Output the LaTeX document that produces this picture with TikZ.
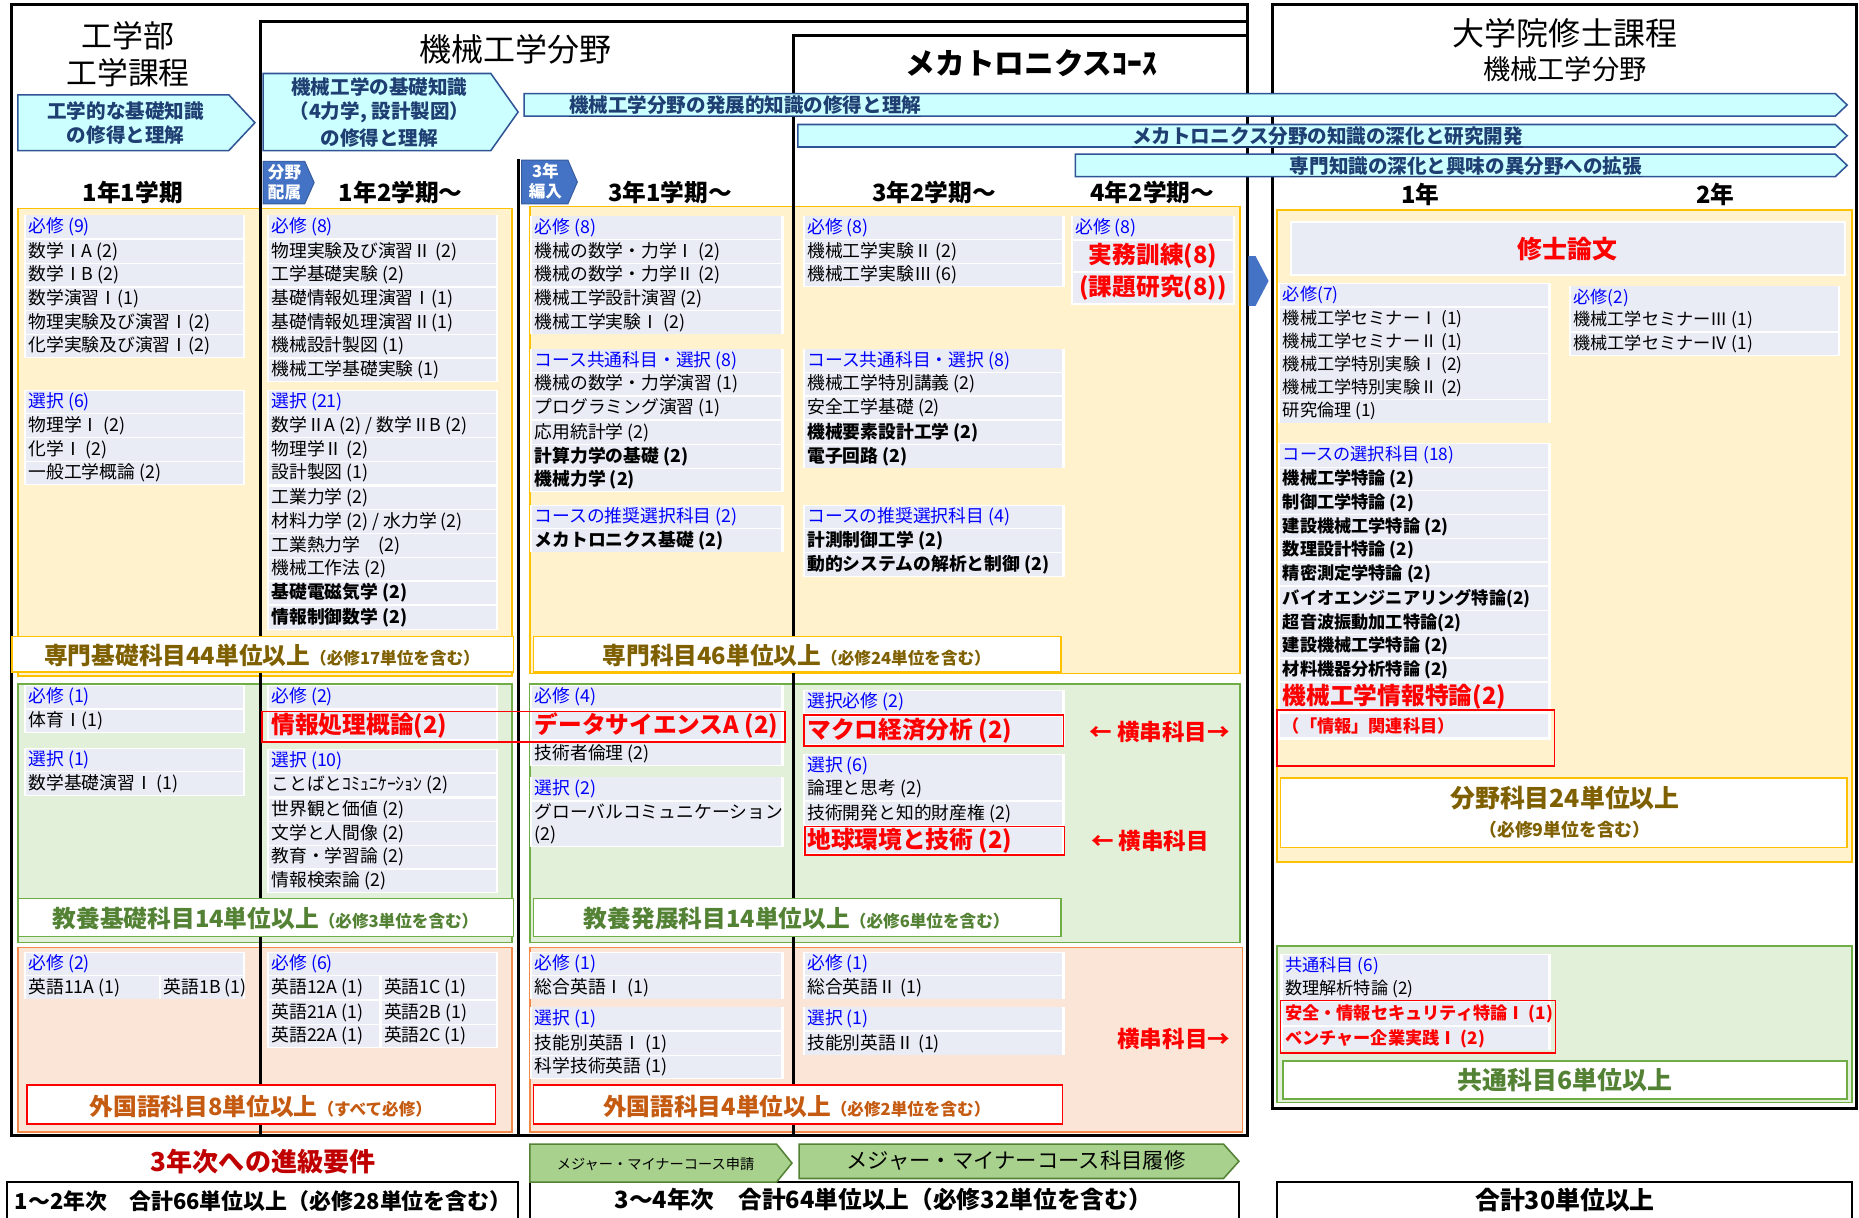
\documentclass[tikz,border=0pt]{standalone}
\usepackage{fontspec}
\setmainfont{Noto Sans CJK JP}
\definecolor{cyanfill}{HTML}{CCFFFF}
\definecolor{cyanline}{HTML}{2F5597}
\definecolor{navy}{HTML}{1F3F73}
\definecolor{tagblue}{HTML}{4472C4}
\definecolor{yfill}{HTML}{FFF2CC}
\definecolor{yline}{HTML}{FFC000}
\definecolor{gfill}{HTML}{E2F0D9}
\definecolor{gline}{HTML}{70AD47}
\definecolor{ofill}{HTML}{FBE5D6}
\definecolor{oline}{HTML}{F08A4B}
\definecolor{cellc}{HTML}{E9EBF5}
\definecolor{hdblue}{HTML}{0000FF}
\definecolor{olive}{HTML}{7F6000}
\definecolor{dgreen}{HTML}{548235}
\definecolor{orgtxt}{HTML}{C55A11}
\definecolor{myred}{HTML}{FF0000}
\definecolor{darkred}{HTML}{C00000}
\definecolor{mmfill}{HTML}{A9D18E}
\definecolor{mmline}{HTML}{548235}
\newcommand\fsz[1]{\fontsize{#1}{#1}\selectfont}
\newcounter{nn}
% cell: x1 x2 y style text (left aligned)
\newcommand\cel[5]{\stepcounter{nn}%
  \fill[cellc] (#1,{#3-9.5}) rectangle (#2,{#3+9.5});
  \node[#4,anchor=west] (c\arabic{nn}) at ({#1+2},#3) {#5};}
% cell with height: x1 x2 y h style text
\newcommand\celh[6]{\stepcounter{nn}%
  \fill[cellc] (#1,{#3-#4/2+0.5}) rectangle (#2,{#3+#4/2-0.5});
  \node[#5,anchor=west] (c\arabic{nn}) at ({#1+2},#3) {#6};}
% centered cell with height
\newcommand\celc[6]{\stepcounter{nn}%
  \fill[cellc] (#1,{#3-#4/2+0.5}) rectangle (#2,{#3+#4/2-0.5});
  \node[#5] (c\arabic{nn}) at ({(#1+#2)/2},#3) {#6};}
\newcommand\blk[4]{\fill[white] ({#1-2},#3) rectangle ({#2+2},#4);}
\newcommand\chev[6]{\draw[#6] (#1,#4) -- (#2,#4) -- (#3,{(#4+#5)/2}) -- (#2,#5) -- (#1,#5) -- cycle;}
\tikzset{
 base/.style={inner sep=0pt, outer sep=0pt},
 hd/.style={base, text=hdblue, font=\fsz{15}},
 cr/.style={base, font=\fsz{15}},
 crb/.style={base, font=\fsz{15}\bfseries},
 gh/.style={base, text=hdblue, font=\fsz{14.5}},
 gc/.style={base, font=\fsz{14.5}},
 gcb/.style={base, font=\fsz{14.5}\bfseries},
 rl/.style={base, text=myred, font=\fsz{20}\bfseries},
 rs/.style={base, text=myred, font=\fsz{14.5}\bfseries},
 frame/.style={line width=2.5pt, black},
 yreg/.style={fill=yfill, draw=yline, line width=1.3pt},
 greg/.style={fill=gfill, draw=gline, line width=1.3pt},
 oreg/.style={fill=ofill, draw=oline, line width=1.3pt},
 cyanarr/.style={fill=cyanfill, draw=cyanline, line width=1.3pt},
 tagarr/.style={fill=tagblue, draw=tagblue!80!black, line width=0.8pt},
 mmarr/.style={fill=mmfill, draw=mmline, line width=1.3pt},
 atxt/.style={base, text=navy, font=\fsz{16.5}\bfseries, align=center},
 utxt/.style={base, text=navy, font=\fsz{16.5}\bfseries, anchor=west},
 sem/.style={base, font=\fsz{20}\bfseries},
 ttl/.style={base, font=\fsz{26}},
 redbox/.style={draw=myred, line width=1.3pt},
 yoko/.style={base, text=myred, font=\fsz{19}\bfseries},
 sumbig/.style={base, font=\bfseries},
 totbox/.style={draw=black, line width=1.3pt, fill=white},
}
\begin{document}
\begin{tikzpicture}[x=1pt,y=-1pt]
\useasboundingbox (0,0) rectangle (1568,1027);
\fill[white] (0,0) rectangle (1568,1027);

% ---------- coloured regions
\filldraw[yreg] (15,176) rectangle (432,570);
\filldraw[yreg] (447,174) rectangle (1046,568);
\filldraw[yreg] (1077,177) rectangle (1562,727);
\filldraw[greg] (15,577) rectangle (432,795);
\filldraw[greg] (447,577) rectangle (1046,795);
\filldraw[greg] (1077,798) rectangle (1562,930);
\filldraw[oreg] (15,799) rectangle (432,955);
\filldraw[oreg] (447,799) rectangle (1048,955);

% ---------- frames
\draw[frame] (10,4) rectangle (1052,958);
\draw[frame] (220,958) -- (220,18) -- (1052,18);
\draw[frame] (669,958) -- (669,30) -- (1052,30);
\draw[frame] (437,134) -- (437,958);
\draw[frame] (1073,4) rectangle (1566,935);

% ---------- titles
\node[ttl] (t1) at (108,30) {工学部};
\node[ttl] (t2) at (108,61) {工学課程};
\node[base, font=\fsz{27}] (t3) at (435,42) {機械工学分野};
\node[base, font=\fsz{25}\bfseries] (t4) at (870,53) {メカトロニクスｺｰｽ};
\node[base, font=\fsz{27}] (t5) at (1320,28) {大学院修士課程};
\node[base, font=\fsz{23}] (t6) at (1320,58) {機械工学分野};

% ---------- cyan arrows
\chev{15}{193}{215}{80}{127}{cyanarr}
\node[atxt, font=\fsz{16.5}\bfseries, align=center] (a1) at (106,104) {工学的な基礎知識\\[4pt]の修得と理解};
\chev{222}{414}{437}{62}{127}{cyanarr}
\node[atxt, align=center] (a2) at (320,95) {機械工学の基礎知識\\[4pt]（4力学, 設計製図）\\[4pt]の修得と理解};
\chev{442}{1548}{1558}{79}{98}{cyanarr}
\node[utxt] (a3) at (480,89) {機械工学分野の発展的知識の修得と理解};
\draw[navy, line width=1pt] ([yshift=-1pt]a3.south west) -- ([yshift=-1pt]a3.south east);
\chev{673}{1548}{1558}{105}{124}{cyanarr}
\node[utxt] (a4) at (955,115) {メカトロニクス分野の知識の深化と研究開発};
\draw[navy, line width=1pt] ([yshift=-1pt]a4.south west) -- ([yshift=-1pt]a4.south east);
\chev{907}{1548}{1558}{130}{149}{cyanarr}
\node[utxt] (a5) at (1088,140) {専門知識の深化と興味の異分野への拡張};
\draw[navy, line width=1pt] ([yshift=-1pt]a5.south west) -- ([yshift=-1pt]a5.south east);

% ---------- blue tags
\chev{222}{257}{265}{136}{172}{tagarr}
\node[base, text=white, font=\fsz{14}\bfseries, align=center] (tg1) at (240,154) {分野\\[3pt]配属};
\chev{440}{479}{487}{135}{172}{tagarr}
\node[base, text=white, font=\fsz{14}\bfseries, align=center] (tg2) at (460,153) {3年\\[3pt]編入};
\fill[tagblue] (1053,216) -- (1059,216) -- (1070,237) -- (1059,258) -- (1053,258) -- cycle;

% ---------- semester headers
\node[sem] (s1) at (112,162) {1年1学期};
\node[sem] (s2) at (338,162) {1年2学期～};
\node[sem] (s3) at (565,162) {3年1学期～};
\node[sem] (s4) at (788,162) {3年2学期～};
\node[sem] (s5) at (972,162) {4年2学期～};
\node[sem] (s6) at (1198,164) {1年};
\node[sem] (s7) at (1447,164) {2年};

% ---------- yellow: column 1
\blk{22}{205}{181}{302}
\cel{22}{205}{191}{hd}{必修 (9)}
\cel{22}{205}{212}{cr}{数学ⅠA (2)}
\cel{22}{205}{232}{cr}{数学ⅠB (2)}
\cel{22}{205}{252}{cr}{数学演習Ⅰ(1)}
\cel{22}{205}{272}{cr}{物理実験及び演習Ⅰ(2)}
\cel{22}{205}{292}{cr}{化学実験及び演習Ⅰ(2)}
\blk{22}{205}{329}{409}
\cel{22}{205}{339}{hd}{選択 (6)}
\cel{22}{205}{359}{cr}{物理学Ⅰ (2)}
\cel{22}{205}{379}{cr}{化学Ⅰ (2)}
\cel{22}{205}{399}{cr}{一般工学概論 (2)}
% column 2
\blk{227}{418}{181}{322}
\cel{227}{418}{191}{hd}{必修 (8)}
\cel{227}{418}{212}{cr}{物理実験及び演習Ⅱ (2)}
\cel{227}{418}{232}{cr}{工学基礎実験 (2)}
\cel{227}{418}{252}{cr}{基礎情報処理演習Ⅰ(1)}
\cel{227}{418}{272}{cr}{基礎情報処理演習Ⅱ(1)}
\cel{227}{418}{292}{cr}{機械設計製図 (1)}
\cel{227}{418}{312}{cr}{機械工学基礎実験 (1)}
\blk{227}{418}{329}{531}
\cel{227}{418}{339}{hd}{選択 (21)}
\cel{227}{418}{359}{cr}{数学ⅡA (2) / 数学ⅡB (2)}
\cel{227}{418}{379}{cr}{物理学Ⅱ (2)}
\cel{227}{418}{399}{cr}{設計製図 (1)}
\cel{227}{418}{420}{cr}{工業力学 (2)}
\cel{227}{418}{440}{cr}{材料力学 (2) / 水力学 (2)}
\cel{227}{418}{460}{cr}{工業熱力学　(2)}
\cel{227}{418}{480}{cr}{機械工作法 (2)}
\cel{227}{418}{500}{crb}{基礎電磁気学 (2)}
\cel{227}{418}{521}{crb}{情報制御数学 (2)}
% column 3
\blk{449}{659}{182}{282}
\cel{449}{659}{192}{hd}{必修 (8)}
\cel{449}{659}{212}{cr}{機械の数学・力学Ⅰ (2)}
\cel{449}{659}{232}{cr}{機械の数学・力学Ⅱ (2)}
\cel{449}{659}{252}{cr}{機械工学設計演習 (2)}
\cel{449}{659}{272}{cr}{機械工学実験Ⅰ (2)}
\blk{449}{659}{294}{415}
\cel{449}{659}{304}{hd}{コース共通科目・選択 (8)}
\cel{449}{659}{324}{cr}{機械の数学・力学演習 (1)}
\cel{449}{659}{344}{cr}{プログラミング演習 (1)}
\cel{449}{659}{365}{cr}{応用統計学 (2)}
\cel{449}{659}{385}{crb}{計算力学の基礎 (2)}
\cel{449}{659}{405}{crb}{機械力学 (2)}
\blk{449}{659}{426}{466}
\cel{449}{659}{436}{hd}{コースの推奨選択科目 (2)}
\cel{449}{659}{456}{crb}{メカトロニクス基礎 (2)}
% column 4
\blk{679}{896}{182}{242}
\cel{679}{896}{192}{hd}{必修 (8)}
\cel{679}{896}{212}{cr}{機械工学実験Ⅱ (2)}
\cel{679}{896}{232}{cr}{機械工学実験Ⅲ (6)}
\blk{679}{896}{294}{395}
\cel{679}{896}{304}{hd}{コース共通科目・選択 (8)}
\cel{679}{896}{324}{cr}{機械工学特別講義 (2)}
\cel{679}{896}{344}{cr}{安全工学基礎 (2)}
\cel{679}{896}{365}{crb}{機械要素設計工学 (2)}
\cel{679}{896}{385}{crb}{電子回路 (2)}
\blk{679}{896}{426}{487}
\cel{679}{896}{436}{hd}{コースの推奨選択科目 (4)}
\cel{679}{896}{456}{crb}{計測制御工学 (2)}
\cel{679}{896}{476}{crb}{動的システムの解析と制御 (2)}
% column 5
\blk{905}{1040}{182}{257}
\cel{905}{1040}{192}{hd}{必修 (8)}
\celc{905}{1040}{216}{26}{rl}{実務訓練(8)}
\celc{905}{1040}{243}{26}{rl}{(課題研究(8))}

% ---------- graduate yellow
\blk{1090}{1555}{186}{233}
\fill[cellc] (1090,188) rectangle (1555,231);
\node[rl, font=\fsz{21}\bfseries] (thesis) at (1322,210) {修士論文};
\blk{1080}{1306}{239}{357}
\cel{1080}{1306}{249}{gh}{必修(7)}
\cel{1080}{1306}{269}{gc}{機械工学セミナーⅠ (1)}
\cel{1080}{1306}{288}{gc}{機械工学セミナーⅡ (1)}
\cel{1080}{1306}{308}{gc}{機械工学特別実験Ⅰ (2)}
\cel{1080}{1306}{327}{gc}{機械工学特別実験Ⅱ (2)}
\cel{1080}{1306}{347}{gc}{研究倫理 (1)}
\blk{1325}{1550}{241}{300}
\cel{1325}{1550}{251}{gh}{必修(2)}
\cel{1325}{1550}{270}{gc}{機械工学セミナーⅢ (1)}
\cel{1325}{1550}{290}{gc}{機械工学セミナーⅣ (1)}
\blk{1080}{1306}{374}{624}
\cel{1080}{1306}{384}{gh}{コースの選択科目 (18)}
\cel{1080}{1306}{404}{gcb}{機械工学特論 (2)}
\cel{1080}{1306}{424}{gcb}{制御工学特論 (2)}
\cel{1080}{1306}{444}{gcb}{建設機械工学特論 (2)}
\cel{1080}{1306}{464}{gcb}{数理設計特論 (2)}
\cel{1080}{1306}{484}{gcb}{精密測定学特論 (2)}
\cel{1080}{1306}{505}{gcb}{バイオエンジニアリング特論(2)}
\cel{1080}{1306}{525}{gcb}{超音波振動加工特論(2)}
\cel{1080}{1306}{545}{gcb}{建設機械工学特論 (2)}
\cel{1080}{1306}{565}{gcb}{材料機器分析特論 (2)}
\celh{1080}{1306}{588}{24}{rl}{機械工学情報特論(2)}
\celh{1080}{1306}{612}{20}{rs}{（「情報」関連科目）}
\draw[redbox] (1077,599) rectangle (1311,646);
\draw[yline, line width=1.3pt, fill=white] (1080,656) rectangle (1558,715);
\node[sumbig, text=olive, font=\fsz{21}\bfseries] (gs1) at (1320,673) {分野科目24単位以上};
\node[sumbig, text=olive, font=\fsz{15}\bfseries] (gs2) at (1320,700) {（必修9単位を含む）};

% ---------- green section
\blk{22}{205}{578}{618}
\cel{22}{205}{588}{hd}{必修 (1)}
\cel{22}{205}{608}{cr}{体育Ⅰ(1)}
\blk{22}{205}{631}{671}
\cel{22}{205}{641}{hd}{選択 (1)}
\cel{22}{205}{661}{cr}{数学基礎演習Ⅰ (1)}
\blk{227}{418}{578}{626}
\cel{227}{418}{588}{hd}{必修 (2)}
\celh{227}{418}{612}{24}{rl}{情報処理概論(2)}
\blk{227}{418}{632}{753}
\cel{227}{418}{642}{hd}{選択 (10)}
\cel{227}{418}{662}{cr}{ことばとｺﾐｭﾆｹｰｼｮﾝ (2)}
\cel{227}{418}{683}{cr}{世界観と価値 (2)}
\cel{227}{418}{703}{cr}{文学と人間像 (2)}
\cel{227}{418}{723}{cr}{教育・学習論 (2)}
\cel{227}{418}{743}{cr}{情報検索論 (2)}
\blk{449}{659}{578}{646}
\cel{449}{659}{588}{hd}{必修 (4)}
\celh{449}{659}{612}{24}{rl}{データサイエンスA (2)}
\cel{449}{659}{636}{cr}{技術者倫理 (2)}
\blk{449}{659}{655}{714}
\cel{449}{659}{665}{hd}{選択 (2)}
\celh{449}{659}{695}{38}{cr, align=left}{グローバルコミュニケーション\\[4pt](2)}
\blk{679}{896}{582}{628}
\cel{679}{896}{592}{hd}{選択必修 (2)}
\celh{679}{896}{616}{24}{rl}{マクロ経済分析 (2)}
\blk{679}{896}{636}{721}
\cel{679}{896}{646}{hd}{選択 (6)}
\cel{679}{896}{665}{cr}{論理と思考 (2)}
\cel{679}{896}{686}{cr}{技術開発と知的財産権 (2)}
\celh{679}{896}{709}{22}{rl}{地球環境と技術 (2)}
\draw[redbox] (221,600) rectangle (662,626);
\draw[redbox] (678,603) rectangle (897,629);
\draw[redbox] (679,697) rectangle (898,721);
\node[yoko] (y1) at (978,617) {← 横串科目→};
\node[yoko] (y2) at (970,709) {← 横串科目};

% graduate green
\blk{1082}{1306}{805}{886}
\cel{1082}{1306}{815}{gh}{共通科目 (6)}
\cel{1082}{1306}{834}{gc}{数理解析特論 (2)}
\cel{1082}{1306}{855}{rs}{安全・情報セキュリティ特論Ⅰ (1)}
\cel{1082}{1306}{876}{rs}{ベンチャー企業実践Ⅰ (2)}
\draw[redbox] (1080,844) rectangle (1312,888);
\draw[gline, line width=1.3pt, fill=white] (1082,895) rectangle (1558,927);
\node[sumbig, text=dgreen, font=\fsz{21}\bfseries] (gs3) at (1320,911) {共通科目6単位以上};

% ---------- orange section
\blk{22}{205}{803}{843}
\cel{22}{205}{813}{hd}{必修 (2)}
\cel{22}{134}{833}{cr}{英語11A (1)}
\cel{136}{205}{833}{cr}{英語1B (1)}
\blk{227}{418}{803}{884}
\cel{227}{418}{813}{hd}{必修 (6)}
\cel{227}{320}{833}{cr}{英語12A (1)}
\cel{322}{418}{833}{cr}{英語1C (1)}
\cel{227}{320}{854}{cr}{英語21A (1)}
\cel{322}{418}{854}{cr}{英語2B (1)}
\cel{227}{320}{874}{cr}{英語22A (1)}
\cel{322}{418}{874}{cr}{英語2C (1)}
\blk{449}{659}{803}{843}
\cel{449}{659}{813}{hd}{必修 (1)}
\cel{449}{659}{833}{cr}{総合英語Ⅰ (1)}
\blk{449}{659}{849}{910}
\cel{449}{659}{859}{hd}{選択 (1)}
\cel{449}{659}{880}{cr}{技能別英語Ⅰ (1)}
\cel{449}{659}{900}{cr}{科学技術英語 (1)}
\blk{679}{896}{803}{843}
\cel{679}{896}{813}{hd}{必修 (1)}
\cel{679}{896}{833}{cr}{総合英語Ⅱ (1)}
\blk{679}{896}{849}{890}
\cel{679}{896}{859}{hd}{選択 (1)}
\cel{679}{896}{880}{cr}{技能別英語Ⅱ (1)}
\node[yoko] (y3) at (990,876) {横串科目→};

% ---------- summary boxes
\draw[yline, line width=1.3pt, fill=white] (10,537) rectangle (433,567);
\node[sumbig, text=olive] (m1) at (221,553) {\fsz{20}専門基礎科目44単位以上\fsz{14}（必修17単位を含む）};
\draw[yline, line width=1.3pt, fill=white] (450,537) rectangle (895,567);
\node[sumbig, text=olive] (m2) at (672,553) {\fsz{20}専門科目46単位以上\fsz{14}（必修24単位を含む）};
\draw[gline, line width=1.3pt, fill=white] (15,758) rectangle (433,790);
\node[sumbig, text=dgreen] (m3) at (224,775) {\fsz{20}教養基礎科目14単位以上\fsz{14}（必修3単位を含む）};
\draw[gline, line width=1.3pt, fill=white] (450,758) rectangle (895,790);
\node[sumbig, text=dgreen] (m4) at (672,775) {\fsz{20}教養発展科目14単位以上\fsz{14}（必修6単位を含む）};
\draw[myred, line width=1.3pt, fill=white] (23,915) rectangle (418,948);
\node[sumbig, text=orgtxt] (m5) at (220,933) {\fsz{20}外国語科目8単位以上\fsz{14}（すべて必修）};
\draw[myred, line width=1.3pt, fill=white] (450,915) rectangle (896,948);
\node[sumbig, text=orgtxt] (m6) at (672,933) {\fsz{20}外国語科目4単位以上\fsz{14}（必修2単位を含む）};

% ---------- bottom
\node[base, text=darkred, font=\fsz{22}\bfseries] (adv) at (222,980) {3年次への進級要件};
\draw[totbox] (6,997) rectangle (437,1032);
\node[base, font=\fsz{18.5}\bfseries] (b1) at (222,1013) {1～2年次　合計66単位以上（必修28単位を含む）};
\draw[totbox] (447,997) rectangle (1045,1032);
\node[base, font=\fsz{20}\bfseries] (b2) at (745,1012) {3～4年次　合計64単位以上（必修32単位を含む）};
\draw[totbox] (1077,997) rectangle (1562,1032);
\node[base, font=\fsz{21}\bfseries] (b3) at (1320,1012) {合計30単位以上};
\chev{447}{655}{668}{965}{997}{mmarr}
\node[base, font=\fsz{12}] (mm1) at (553,982) {メジャー・マイナーコース申請};
\chev{674}{1032}{1045}{965}{994}{mmarr}
\node[base, font=\fsz{18}] (mm2) at (857,979) {メジャー・マイナーコース科目履修};
\end{tikzpicture}
\end{document}
